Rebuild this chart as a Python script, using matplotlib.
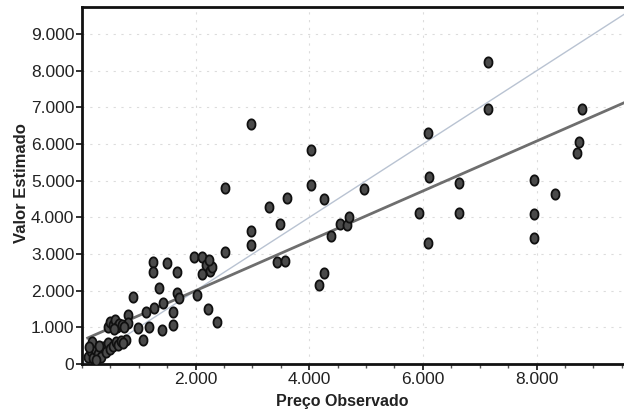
"""Scatter of estimated value vs observed price with fitted line."""
import matplotlib
matplotlib.use('Agg')
import matplotlib.pyplot as plt
from matplotlib.ticker import FuncFormatter, MultipleLocator
import numpy as np

preco_obs = [
    7150, 7150, 8800, 8750, 8720, 7950, 8330, 7960, 7960, 4960, 6100, 6630,
    5930, 6630, 6090, 6090,
    2980, 4030, 4030, 3610, 4260, 3300, 3490, 2970, 2980, 4390, 4540, 4660,
    4700, 3440, 3580, 4260, 4180, 2510, 2510,
    1970, 2120, 2180, 2250, 2120, 2280, 2230, 1680, 1680, 1700, 2030, 2210,
    2370, 1600, 1600, 1250, 1250, 1490, 1350, 890, 1420, 1260, 1120, 1180,
    1400, 980, 1070, 810, 810, 770,
    460, 500, 540, 580, 620, 660, 700, 740, 560,
    100, 150, 200, 230, 280, 330, 370, 420, 460, 500, 550, 600, 640, 690,
    720, 180, 120, 300, 250,
]
valor_est = [
    8250, 6960, 6960, 6060, 5760, 5020, 4650, 4100, 3440, 4780, 5100, 4940,
    4120, 4120, 3300, 6300,
    6550, 5840, 4890, 4540, 4500, 4290, 3820, 3630, 3250, 3490, 3820, 3800,
    4010, 2790, 2810, 2480, 2160, 3060, 4800,
    2920, 2920, 2700, 2550, 2450, 2650, 2850, 2510, 1940, 1800, 1880, 1500,
    1150, 1420, 1070, 2790, 2510, 2760, 2070, 1830, 1660, 1530, 1420, 1010,
    930, 980, 660, 1340, 1120, 655,
    1000, 1150, 1050, 1200, 1000, 1100, 1050, 1000, 950,
    200, 350, 150, 400, 280, 200, 450, 330, 560, 420, 500, 600, 520, 620,
    580, 600, 450, 500, 120,
]

# fitted line: y = a + b*x
fit_a = 640
fit_b = 0.68

x_ticks = [2000, 4000, 6000, 8000]
y_ticks = [0, 1000, 2000, 3000, 4000, 5000, 6000, 7000, 8000, 9000]


def thousands(v, pos):
    return f'{int(v):,}'.replace(',', '.')


fig = plt.figure(figsize=(6.24, 4.15), dpi=100)
ax = fig.add_axes([0.1314, 0.123, 0.8686, 0.860])

# slightly tall oval marker like the scanned dots
t = np.linspace(0, 2 * np.pi, 40)
oval = list(zip(0.78 * np.cos(t), np.sin(t)))

xs = np.array([100, 9540])
ax.plot([0, 9540], [0, 9540], color='#b9c3d2', lw=1.0, zorder=2)
ax.plot(xs, fit_a + fit_b * xs, color='#6e6e6e', lw=2.0, zorder=2)
ax.scatter(preco_obs, valor_est, marker=oval, s=55, facecolor='#4a4a4a',
           edgecolor='#101010', linewidth=1.3, zorder=3)

ax.set_xlim(0, 9540)
ax.set_ylim(0, 9740)
ax.set_xticks(x_ticks)
ax.set_yticks(y_ticks)
ax.xaxis.set_minor_locator(MultipleLocator(500))
ax.xaxis.set_major_formatter(FuncFormatter(thousands))
ax.yaxis.set_major_formatter(FuncFormatter(thousands))

ax.grid(True, which='major', color='#dcdcdc', lw=0.8, linestyle=(0, (2, 5)))
ax.set_axisbelow(True)

for side in ['left', 'bottom', 'top']:
    ax.spines[side].set_linewidth(2.0)
    ax.spines[side].set_color('#111111')
ax.spines['right'].set_visible(False)

ax.tick_params(axis='both', which='major', labelsize=12.5, length=4,
               width=1.2, colors='#111111', labelcolor='#222222', pad=1.5)
ax.tick_params(axis='x', which='minor', length=3, width=1.0, colors='#555555')
for lab in ax.get_xticklabels() + ax.get_yticklabels():
    lab.set_family('Liberation Sans')

ax.set_xlabel('Preço Observado', fontsize=11.5, fontweight='bold',
              family='Liberation Sans', color='#222222')
ax.set_ylabel('Valor Estimado', fontsize=12, fontweight='bold',
              family='Liberation Sans', color='#222222')
ax.yaxis.set_label_coords(-0.098, 0.507)
ax.xaxis.set_label_coords(0.48, -0.085)

fig.savefig('out.png', dpi=100)
